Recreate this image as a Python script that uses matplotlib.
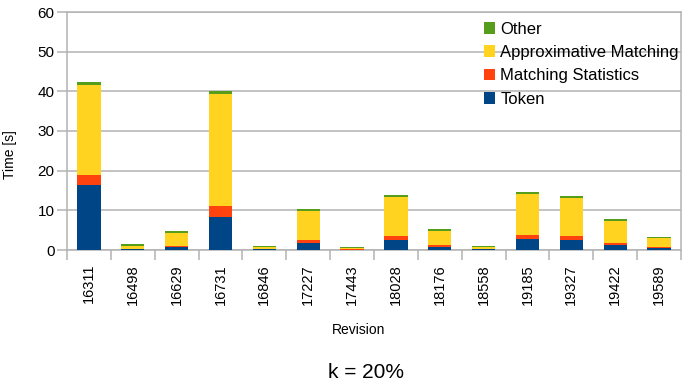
import matplotlib
matplotlib.use('Agg')
import matplotlib.pyplot as plt
from matplotlib.patches import Patch
import numpy as np

plt.rcParams['font.family'] = ['Liberation Sans', 'DejaVu Sans']

# data
revisions = ['16311', '16498', '16629', '16731', '16846', '17227', '17443',
             '18028', '18176', '18558', '19185', '19327', '19422', '19589']
token = [16.4, 0.2, 0.75, 8.2, 0.2, 1.8, 0.1, 2.5, 0.75, 0.2, 2.8, 2.5, 1.3, 0.5]
matching_stats = [2.5, 0.1, 0.35, 2.9, 0.1, 0.8, 0.2, 1.0, 0.5, 0.05, 1.0, 1.0, 0.5, 0.25]
approx_matching = [22.8, 0.8, 3.2, 28.3, 0.4, 7.3, 0.2, 9.9, 3.55, 0.4, 10.3, 9.6, 5.5, 2.35]
other = [0.7, 0.3, 0.6, 0.6, 0.3, 0.5, 0.3, 0.5, 0.5, 0.3, 0.5, 0.5, 0.5, 0.3]

series = [('Token', token, '#004586'),
          ('Matching Statistics', matching_stats, '#ff420e'),
          ('Approximative Matching', approx_matching, '#ffd320'),
          ('Other', other, '#579d1c')]

grid_col = '#b3b3b3'

fig = plt.figure(figsize=(6.89, 3.85), dpi=100)
ax = fig.add_axes([67 / 689, 1 - 250 / 385, 614 / 689, 238 / 385])

x = np.arange(len(revisions))
bottom = np.zeros(len(revisions))
handles = []
for name, vals, col in series:
    ax.bar(x, vals, width=0.53, bottom=bottom, color=col, zorder=3)
    bottom += np.array(vals)
    handles.append(Patch(facecolor=col, label=name))

ax.set_xlim(-0.5, len(revisions) - 0.5)
ax.set_ylim(0, 60)
ax.set_yticks(range(0, 61, 10))
ax.yaxis.grid(True, color=grid_col, linewidth=1.1, zorder=0)

# boundary ticks between categories, labels at the centres
ax.set_xticks(np.arange(len(revisions) + 1) - 0.5)
ax.set_xticklabels([])
ax.set_xticks(x, minor=True)
ax.set_xticklabels(revisions, minor=True, rotation=90, fontsize=10.5)
ax.tick_params(axis='x', which='major', length=7, color=grid_col, width=1.1)
ax.tick_params(axis='x', which='minor', length=0, pad=10)
ax.tick_params(axis='y', length=7, color=grid_col, width=1.1, labelsize=11, pad=2)

for s in ax.spines.values():
    s.set_color(grid_col)
    s.set_linewidth(1.1)

fig.text(10 / 689, 1 - 155 / 385, 'Time [s]', rotation=90, ha='center', va='center', fontsize=10)
fig.text(359 / 689, 1 - 330 / 385, 'Revision', ha='center', va='center', fontsize=10)
fig.text(366 / 689, 1 - 372 / 385, 'k = 20%', ha='center', va='center', fontsize=15)

ax.legend(handles=handles[::-1], loc='upper left', bbox_to_anchor=(477 / 689, 1 - 15 / 385),
          bbox_transform=fig.transFigure, frameon=False, fontsize=12,
          handlelength=0.7, handleheight=0.7, handletextpad=0.3, labelspacing=0.5,
          borderaxespad=0)

fig.savefig('out.png', dpi=100)
